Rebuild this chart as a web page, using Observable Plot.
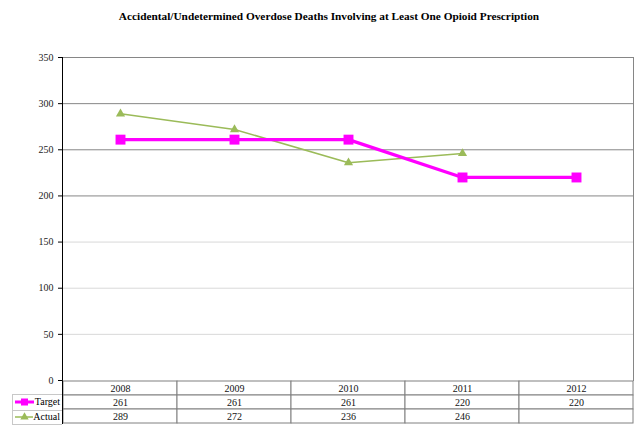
<!DOCTYPE html>
<html><head><meta charset="utf-8">
<script src="https://cdn.jsdelivr.net/npm/d3@7"></script>
<script src="https://cdn.jsdelivr.net/npm/@observablehq/plot@0.6"></script>
<style>
body{margin:0;background:#fff;font-family:"Liberation Serif",serif;}
#wrap{position:relative;width:640px;height:435px;overflow:hidden;background:#fff;}
#title{position:absolute;top:10px;left:9px;width:640px;text-align:center;font-weight:bold;font-size:11.3px;color:#000;}
#chart{position:absolute;top:0;left:0;}
#table{position:absolute;top:380px;left:0;}
#legend{position:absolute;left:12px;top:394px;width:50px;border:1px solid #c8c8c8;border-right:none;box-sizing:border-box;}
.lrow{height:14.5px;display:flex;align-items:center;justify-content:space-between;font-size:10px;line-height:14px;padding-right:2px;box-sizing:border-box;}
.lrow + .lrow{border-top:1px solid #c8c8c8;}
</style></head><body>
<div id="wrap">
<div id="title">Accidental/Undetermined Overdose Deaths Involving at Least One Opioid Prescription</div>
<div id="chart"></div>
<div id="table"></div>
<div id="legend"></div>
</div>
<script>
const years = ["2008", "2009", "2010", "2011", "2012"];
const target = [261, 261, 261, 220, 220];
const actual = [289, 272, 236, 246, null];
const yTicks = [0, 50, 100, 150, 200, 250, 300, 350];
const darkGrid = [200, 250, 300, 350];
const lightGrid = [50, 100, 150];
const seriesNames = ["Target", "Actual"];
const colors = {Target: "#FF00FF", Actual: "#9BBB59"};

const tData = years.map((y, i) => ({year: y, value: target[i]}));
const aData = years.map((y, i) => ({year: y, value: actual[i]})).filter(d => d.value != null);

const chart = Plot.plot({
  width: 640, height: 392,
  marginTop: 57, marginBottom: 12, marginLeft: 62, marginRight: 7,
  style: {fontFamily: "Liberation Serif", fontSize: "10px", background: "transparent", color: "#000"},
  x: {type: "point", domain: years, padding: 0.5, axis: null},
  y: {domain: [0, 350], axis: null},
  marks: [
    Plot.ruleY(lightGrid, {stroke: "#d9d9d9"}),
    Plot.ruleY(darkGrid, {stroke: "#868686"}),
    Plot.frame({anchor: "right", stroke: "#868686"}),
    Plot.axisY(yTicks, {tickSize: 4, tickPadding: 5, label: null, stroke: "#000", fill: "#222"}),
    Plot.frame({anchor: "left", stroke: "#000"}),
    Plot.line(aData, {x: "year", y: "value", stroke: colors.Actual, strokeWidth: 1.6}),
    Plot.line(tData, {x: "year", y: "value", stroke: colors.Target, strokeWidth: 3.2}),
    Plot.dot(aData, {x: "year", y: "value", symbol: "triangle", r: 3.4, fill: colors.Actual, stroke: "none"}),
    Plot.dot(tData, {x: "year", y: "value", symbol: "square", r: 5.6, fill: colors.Target, stroke: "none"})
  ]
});
document.getElementById("chart").append(chart);

const rows = ["Year", ...seriesNames];
const cells = [];
years.forEach((y, i) => {
  cells.push({year: y, row: "Year", text: y});
  cells.push({year: y, row: "Target", text: String(target[i])});
  cells.push({year: y, row: "Actual", text: actual[i] == null ? "" : String(actual[i])});
});

const table = Plot.plot({
  width: 640, height: 44,
  marginTop: 0.5, marginBottom: 0.5, marginLeft: 62, marginRight: 7,
  style: {fontFamily: "Liberation Serif", fontSize: "10px", background: "transparent", color: "#000"},
  x: {type: "band", domain: years, padding: 0, axis: null},
  y: {type: "band", domain: rows, padding: 0, axis: null},
  marks: [
    Plot.cell(cells, {x: "year", y: "row", fill: "white", stroke: "#808080"}),
    Plot.text(cells, {x: "year", y: "row", text: "text", fill: "#111"}),
    Plot.frame({anchor: "left", stroke: "#000"})
  ]
});
document.getElementById("table").append(table);

const legend = document.getElementById("legend");
seriesNames.forEach(name => {
  const row = document.createElement("div");
  row.className = "lrow";
  const sw = d3.create("svg").attr("width", 22).attr("height", 10);
  sw.append("line").attr("x1", 2).attr("x2", 21).attr("y1", 5).attr("y2", 5)
    .attr("stroke", colors[name]).attr("stroke-width", name === "Target" ? 3 : 1.5);
  if (name === "Target") {
    sw.append("rect").attr("x", 8).attr("y", 1.5).attr("width", 7).attr("height", 7).attr("fill", colors[name]);
  } else {
    sw.append("path").attr("d", d3.symbol(d3.symbolTriangle, 30)()).attr("transform", "translate(11.5,5)").attr("fill", colors[name]);
  }
  row.append(sw.node());
  const lab = document.createElement("span");
  lab.textContent = name;
  row.append(lab);
  legend.append(row);
});
</script>
</body></html>
